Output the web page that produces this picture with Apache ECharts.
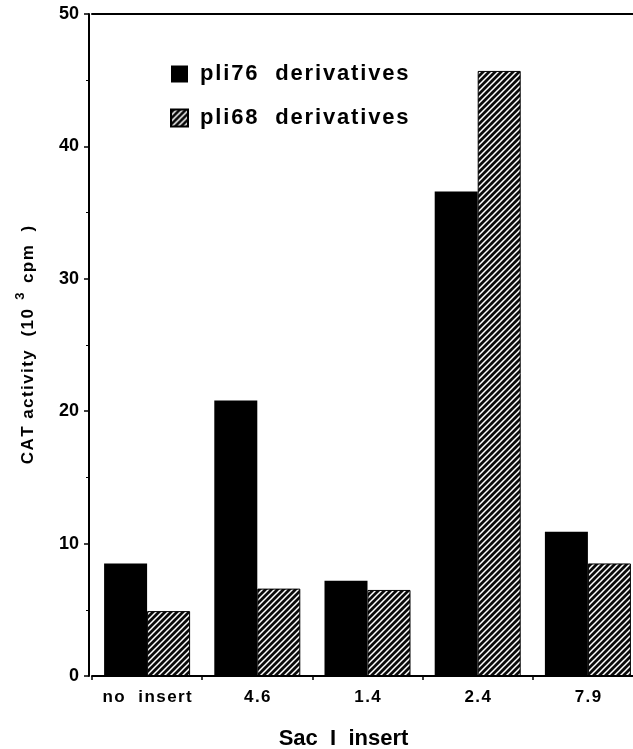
<!DOCTYPE html>
<html>
<head>
<meta charset="utf-8">
<script src="https://cdn.jsdelivr.net/npm/echarts@6/dist/echarts.min.js"></script>
<style>
  html, body { margin: 0; padding: 0; background: #fff; }
  #chart { width: 633px; height: 749px; }
</style>
</head>
<body>
<div id="chart"></div>
<script>
// Sac I insert size (kb) for each construct
const categories = ['no insert', '4.6', '1.4', '2.4', '7.9'];
// CAT activity, 10^3 cpm
const pli76 = [8.5, 20.8, 7.2, 36.6, 10.9];
const pli68 = [4.9, 6.6, 6.5, 45.7, 8.5];
const seriesNames = ['pli76  derivatives', 'pli68  derivatives'];
const yMin = 0, yMax = 50, yStep = 10;

const FONT = '"Liberation Sans", Arial, Helvetica, sans-serif';
const HAIR = '\u200A';

// Loose letter tracking, done with hair spaces between glyphs
function track(str, sep) {
  return Array.from(str).join(sep);
}

// Diagonal hatch fill: thin white "/" strokes on black
function makeHatch() {
  const s = 6;
  const c = document.createElement('canvas');
  c.width = s; c.height = s;
  const g = c.getContext('2d');
  g.fillStyle = '#0a0a0a';
  g.fillRect(0, 0, s, s);
  g.strokeStyle = '#ffffff';
  g.lineWidth = 1.5;
  g.beginPath();
  g.moveTo(-1, s + 1); g.lineTo(s + 1, -1);
  g.moveTo(-2, 2); g.lineTo(2, -2);
  g.moveTo(s - 2, s + 2); g.lineTo(s + 2, s - 2);
  g.stroke();
  return c;
}
const hatch = { image: makeHatch(), repeat: 'repeat' };

const chart = echarts.init(document.getElementById('chart'), null, { renderer: 'canvas' });

chart.setOption({
  animation: false,
  backgroundColor: '#fff',
  grid: {
    left: 92, top: 14, bottom: 73, width: 551,
    containLabel: false, outerBoundsMode: 'none'
  },
  legend: {
    orient: 'vertical',
    left: 170,
    top: 63,
    padding: 0,
    itemWidth: 17,
    itemHeight: 17,
    itemGap: 22,
    icon: 'rect',
    selectedMode: false,
    data: seriesNames,
    formatter: function (name) { return track(name, HAIR); },
    textStyle: {
      fontFamily: FONT, fontWeight: 'bold', fontSize: 22, color: '#000',
      padding: [0, 0, 0, 7]
    }
  },
  xAxis: [
    {
      type: 'category',
      data: categories,
      boundaryGap: true,
      axisLine: { show: true, lineStyle: { color: '#000', width: 2 } },
      axisTick: { show: true, length: 4, lineStyle: { color: '#000', width: 1.5 } },
      axisLabel: {
        interval: 0,
        fontFamily: FONT, fontWeight: 'bold', fontSize: 17, color: '#000', margin: 13,
        formatter: function (v) { return track(v.replace(' ', '  '), HAIR); }
      },
      name: 'Sac  I  insert',
      nameLocation: 'middle',
      nameGap: 52,
      nameTextStyle: {
        fontFamily: FONT, fontWeight: 'bold', fontSize: 22, color: '#000',
        padding: [0, 48, 0, 0]
      }
    },
    {
      type: 'category',
      data: categories,
      position: 'top',
      axisLine: { show: true, lineStyle: { color: '#000', width: 2 } },
      axisTick: { show: false },
      axisLabel: { show: false }
    }
  ],
  yAxis: {
    type: 'value',
    min: yMin,
    max: yMax,
    interval: yStep,
    offset: 3,
    axisLine: { show: true, lineStyle: { color: '#000', width: 2 } },
    axisTick: { show: true, length: 5, lineStyle: { color: '#000', width: 1.5 } },
    minorTick: { show: true, splitNumber: 2, length: 3, lineStyle: { color: '#000', width: 1 } },
    splitLine: { show: false },
    axisLabel: {
      fontFamily: FONT, fontWeight: 'bold', fontSize: 18, color: '#000', margin: 10
    },
    name: track('CAT activity  (10', HAIR) + '  {s|3}  ' + track('cpm  )', HAIR),
    nameLocation: 'middle',
    nameGap: 46,
    nameTextStyle: {
      fontFamily: FONT, fontWeight: 'bold', fontSize: 17, color: '#000',
      rich: {
        s: { fontFamily: FONT, fontWeight: 'bold', fontSize: 13, color: '#000', padding: [0, 0, 16, 0] }
      }
    }
  },
  series: [
    {
      name: seriesNames[0],
      type: 'bar',
      data: pli76,
      barWidth: 43,
      barGap: '0%',
      itemStyle: { color: '#000' }
    },
    {
      name: seriesNames[1],
      type: 'bar',
      data: pli68,
      barWidth: 43,
      barGap: '0%',
      itemStyle: { color: hatch, borderColor: '#000', borderWidth: 1 }
    }
  ]
});
</script>
</body>
</html>
